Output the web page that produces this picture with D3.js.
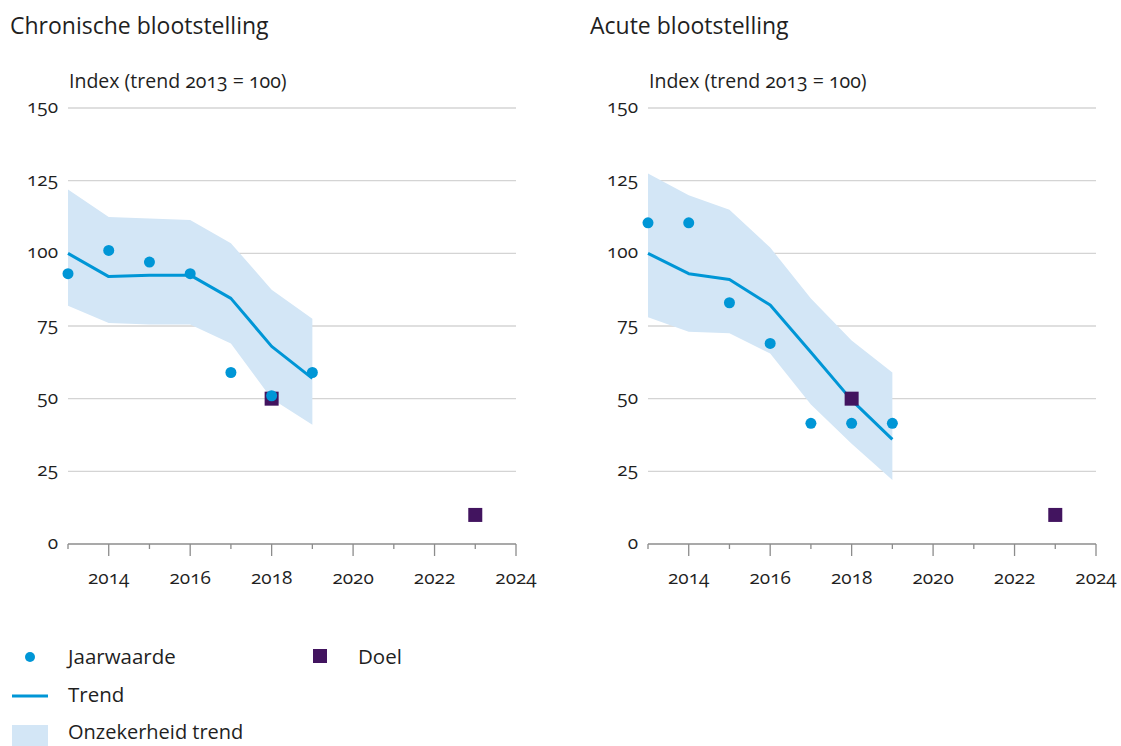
<!DOCTYPE html>
<html><head><meta charset="utf-8">
<script src="https://cdn.jsdelivr.net/npm/d3@7"></script>
<style>
body{margin:0;background:#fff;}
svg text{font-family:"Open Sans",sans-serif;fill:#1f1f1f;font-variant-numeric:oldstyle-nums;font-feature-settings:"onum" 1;}
</style></head><body>
<svg id="c" width="1121" height="746"></svg>
<script>
const years = [2013, 2014, 2015, 2016, 2017, 2018, 2019];
const goalYears = [2018, 2023];
const xTicks = [2014, 2016, 2018, 2020, 2022, 2024];
const yTicks = [0, 25, 50, 75, 100, 125, 150];

// Chronische blootstelling
const chronJaar = [93, 101, 97, 93, 59, 51, 59];
const chronTrend = [100, 92, 92.5, 92.5, 84.5, 68, 57];
const chronUpper = [122, 112.5, 112, 111.5, 103.5, 87.5, 77.5];
const chronLower = [82, 76, 75.5, 75.5, 69, 50, 41];
const chronDoel = [50, 10];

// Acute blootstelling
const acuteJaar = [110.5, 110.5, 83, 69, 41.5, 41.5, 41.5];
const acuteTrend = [100, 93, 91, 82.2, 66, 49.5, 36];
const acuteUpper = [127.5, 120, 115, 102, 84.5, 70, 59];
const acuteLower = [78, 73, 72.5, 65.5, 48, 34.5, 22];
const acuteDoel = [50, 10];

const C_DOT = "#0096d6", C_BAND = "#d3e6f6", C_DOEL = "#42145f";

const svg = d3.select("#c");

function panel(x0, title, jaar, trend, upper, lower, doel) {
  const g = svg.append("g");
  const x = d3.scaleLinear().domain([2013, 2024]).range([x0, x0 + 448]);
  const y = d3.scaleLinear().domain([0, 150]).range([544, 108]);

  g.append("text").attr("x", x0 - 58).attr("y", 34).attr("font-size", 23).text(title);
  g.append("text").attr("x", x0 + 1).attr("y", 88).attr("font-size", 19.5).text("Index (trend 2013 = 100)");

  // gridlines
  g.selectAll("line.grid").data(yTicks.filter(d => d > 0)).join("line")
    .attr("x1", x0).attr("x2", x0 + 448)
    .attr("y1", d => y(d)).attr("y2", d => y(d))
    .attr("stroke", "#d4d4d4").attr("stroke-width", 1.3);

  // y labels
  g.selectAll("text.yl").data(yTicks).join("text")
    .attr("x", x0 - 10).attr("y", d => y(d) + 5).attr("text-anchor", "end")
    .attr("font-size", 19).text(d => d);

  // band
  const area = d3.area().x((d, i) => x(years[i])).y0((d, i) => y(lower[i])).y1((d, i) => y(upper[i]));
  g.append("path").datum(upper).attr("d", area).attr("fill", C_BAND);

  // trend
  const line = d3.line().x((d, i) => x(years[i])).y(d => y(d));
  g.append("path").datum(trend).attr("d", line).attr("fill", "none")
    .attr("stroke", C_DOT).attr("stroke-width", 3).attr("stroke-linejoin", "round");

  // doel
  g.selectAll("rect.doel").data(doel).join("rect")
    .attr("x", (d, i) => x(goalYears[i]) - 7).attr("y", d => y(d) - 7)
    .attr("width", 14).attr("height", 14).attr("fill", C_DOEL);

  // dots
  g.selectAll("circle").data(jaar).join("circle")
    .attr("cx", (d, i) => x(years[i])).attr("cy", d => y(d)).attr("r", 5.5).attr("fill", C_DOT);

  // x axis
  const ax = g.append("g").attr("transform", "translate(0,544)");
  ax.append("line").attr("x1", x0).attr("x2", x0 + 448).attr("stroke", "#8c8c8c").attr("stroke-width", 1.3);
  const allYears = d3.range(2013, 2025);
  ax.selectAll("line.t").data(allYears).join("line")
    .attr("x1", d => x(d)).attr("x2", d => x(d)).attr("y1", 0)
    .attr("y2", d => (d % 2 === 0) ? 12 : 5)
    .attr("stroke", "#8c8c8c").attr("stroke-width", 1.3);
  ax.selectAll("text").data(xTicks).join("text")
    .attr("x", d => x(d)).attr("y", 40).attr("text-anchor", "middle")
    .attr("font-size", 19).text(d => d);
}

panel(68, "Chronische blootstelling", chronJaar, chronTrend, chronUpper, chronLower, chronDoel);
panel(648, "Acute blootstelling", acuteJaar, acuteTrend, acuteUpper, acuteLower, acuteDoel);

// legend
const lg = svg.append("g");
lg.append("circle").attr("cx", 30).attr("cy", 657).attr("r", 5).attr("fill", C_DOT);
lg.append("text").attr("x", 68).attr("y", 664).attr("font-size", 20.5).text("Jaarwaarde");
lg.append("rect").attr("x", 313).attr("y", 649).attr("width", 14).attr("height", 14).attr("fill", C_DOEL);
lg.append("text").attr("x", 358).attr("y", 664).attr("font-size", 20.5).text("Doel");
lg.append("line").attr("x1", 12).attr("x2", 48).attr("y1", 696).attr("y2", 696).attr("stroke", C_DOT).attr("stroke-width", 3);
lg.append("text").attr("x", 68).attr("y", 702).attr("font-size", 20.5).text("Trend");
lg.append("rect").attr("x", 12).attr("y", 725).attr("width", 36).attr("height", 21).attr("fill", C_BAND);
lg.append("text").attr("x", 68).attr("y", 739).attr("font-size", 20).text("Onzekerheid trend");
</script></body></html>
